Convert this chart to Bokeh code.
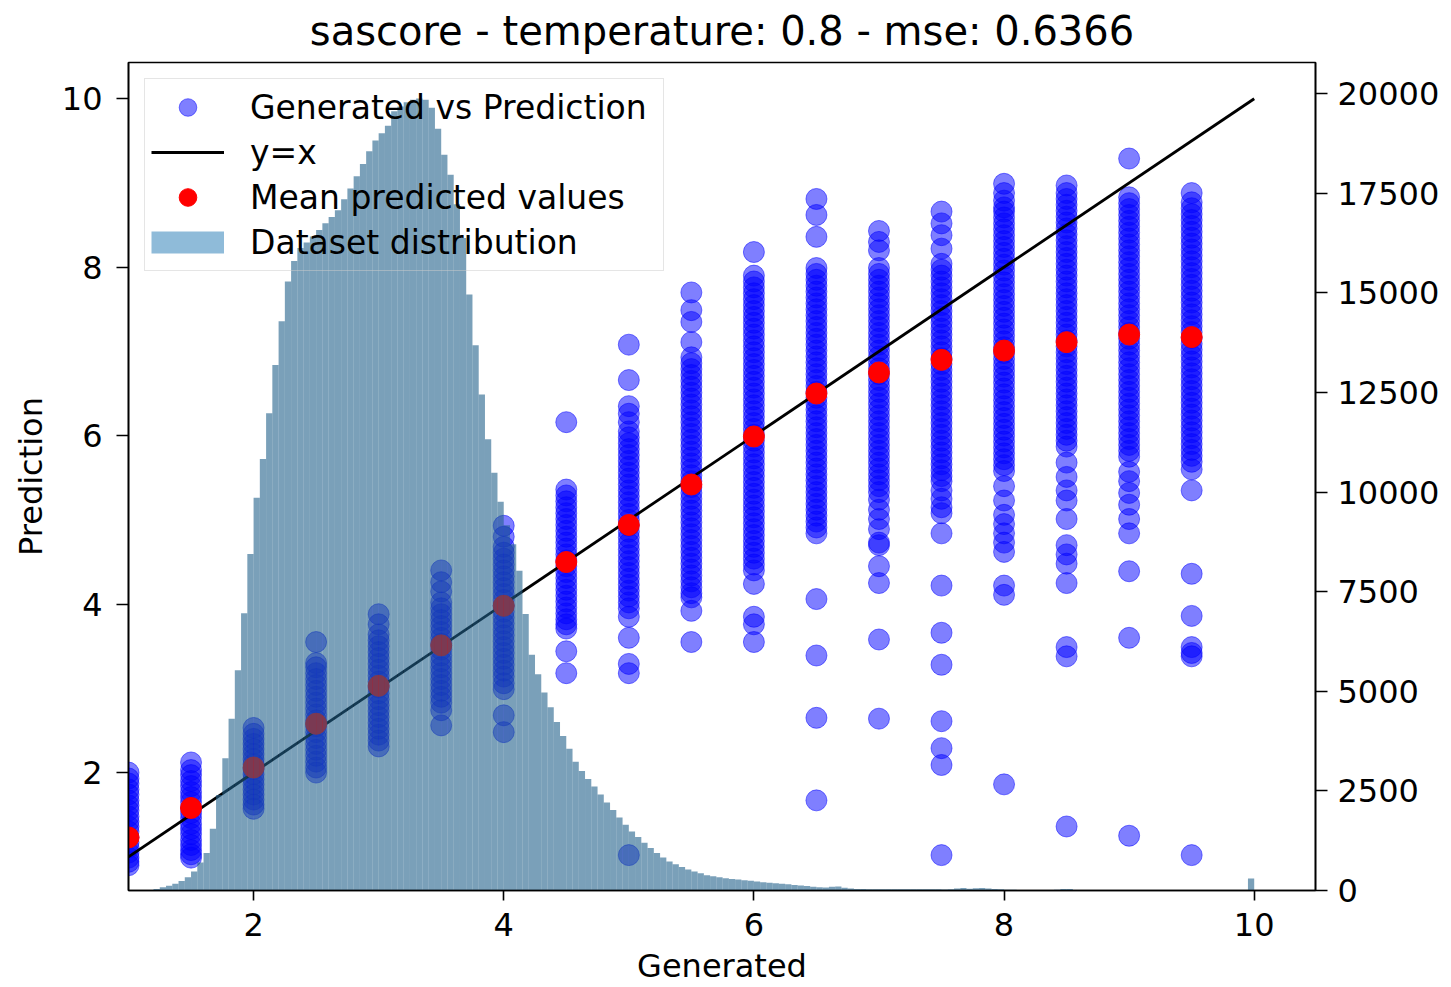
import numpy as np
from bokeh.plotting import figure
from bokeh.models import Range1d, LinearAxis, FixedTicker
from bokeh.embed import file_html
from bokeh.resources import INLINE

# ---------------- data ----------------
title_text = "sascore - temperature: 0.8 - mse: 0.6366"
x_label = "Generated"
y_label = "Prediction"

x_ticks = [2, 4, 6, 8, 10]
y_ticks = [2, 4, 6, 8, 10]
count_ticks = [0, 2500, 5000, 7500, 10000, 12500, 15000, 17500, 20000]

generated_levels = [1.0, 1.5, 2.0, 2.5, 3.0, 3.5, 4.0, 4.5, 5.0,
                    5.5, 6.0, 6.5, 7.0, 7.5, 8.0, 8.5, 9.0, 9.5]

pred_at_1_0 = [2.00, 1.93, 1.87, 1.80, 1.74, 1.67, 1.61, 1.55, 1.48, 1.42, 1.36, 1.30, 1.23,
               1.17, 1.11, 1.05, 0.99, 0.94, 0.90]
pred_at_1_5 = [2.12, 2.03, 1.97, 1.90, 1.84, 1.77, 1.71, 1.65, 1.58, 1.52, 1.46, 1.39, 1.33,
               1.27, 1.20, 1.14, 1.08, 1.03, 0.99]
pred_at_2_0 = [2.53, 2.46, 2.40, 2.34, 2.28, 2.22, 2.16, 2.10, 2.04, 1.98, 1.92, 1.86, 1.80,
               1.74, 1.68, 1.62, 1.57]
pred_at_2_5 = [3.55, 3.30, 3.25, 3.18, 3.11, 3.04, 2.97, 2.90, 2.83, 2.76, 2.69, 2.62, 2.55,
               2.48, 2.41, 2.34, 2.27, 2.20, 2.13, 2.06, 2.00]
pred_at_3_0 = [3.88, 3.76, 3.64, 3.57, 3.50, 3.43, 3.36, 3.29, 3.22, 3.15, 3.08, 3.01, 2.94,
               2.87, 2.80, 2.73, 2.66, 2.59, 2.52, 2.45, 2.38, 2.31]
pred_at_3_5 = [4.40, 4.26, 4.15, 4.02, 3.95, 3.88, 3.81, 3.74, 3.67, 3.60, 3.53, 3.46, 3.39,
               3.32, 3.25, 3.18, 3.11, 3.04, 2.97, 2.90, 2.83, 2.74, 2.56]
pred_at_4_0 = [4.93, 4.80, 4.68, 4.61, 4.54, 4.47, 4.40, 4.33, 4.26, 4.19, 4.12, 4.05, 3.98,
               3.91, 3.84, 3.77, 3.70, 3.63, 3.56, 3.49, 3.42, 3.35, 3.28, 3.21, 3.14, 3.06,
               2.99, 2.68, 2.48]
pred_at_4_5 = [6.16, 5.36, 5.29, 5.22, 5.15, 5.08, 5.01, 4.94, 4.87, 4.80, 4.73, 4.66, 4.59,
               4.52, 4.45, 4.38, 4.31, 4.24, 4.17, 4.10, 4.03, 3.96, 3.89, 3.82, 3.76, 3.71,
               3.44, 3.18]
pred_at_5_0 = [7.08, 6.66, 6.35, 6.26, 6.16, 6.05, 5.98, 5.91, 5.84, 5.77, 5.70, 5.63, 5.56,
               5.49, 5.42, 5.35, 5.28, 5.21, 5.14, 5.07, 5.00, 4.93, 4.86, 4.79, 4.72, 4.65,
               4.58, 4.51, 4.44, 4.37, 4.30, 4.23, 4.16, 4.09, 4.02, 3.95, 3.85, 3.60, 3.29,
               3.18, 1.02]
pred_at_5_5 = [7.70, 7.49, 7.35, 7.11, 6.93, 6.86, 6.79, 6.72, 6.65, 6.58, 6.51, 6.44, 6.37,
               6.30, 6.23, 6.16, 6.09, 6.02, 5.95, 5.88, 5.81, 5.74, 5.67, 5.60, 5.53, 5.46,
               5.39, 5.32, 5.25, 5.18, 5.11, 5.04, 4.97, 4.90, 4.83, 4.76, 4.69, 4.62, 4.55,
               4.48, 4.41, 4.34, 4.27, 4.20, 4.13, 4.08, 3.92, 3.55]
pred_at_6_0 = [8.18, 7.90, 7.83, 7.76, 7.69, 7.62, 7.55, 7.48, 7.41, 7.34, 7.27, 7.20, 7.13,
               7.06, 6.99, 6.92, 6.85, 6.78, 6.71, 6.64, 6.57, 6.50, 6.43, 6.36, 6.29, 6.22,
               6.15, 6.08, 6.01, 5.94, 5.87, 5.80, 5.73, 5.66, 5.59, 5.52, 5.45, 5.38, 5.31,
               5.24, 5.17, 5.10, 5.03, 4.96, 4.89, 4.82, 4.75, 4.68, 4.61, 4.54, 4.47, 4.40,
               4.24, 3.85, 3.76, 3.55]
pred_at_6_5 = [8.81, 8.62, 8.36, 7.99, 7.92, 7.85, 7.78, 7.71, 7.64, 7.57, 7.50, 7.43, 7.36,
               7.29, 7.22, 7.15, 7.08, 7.01, 6.94, 6.87, 6.80, 6.73, 6.66, 6.59, 6.52, 6.45,
               6.38, 6.31, 6.24, 6.17, 6.10, 6.03, 5.96, 5.89, 5.82, 5.75, 5.68, 5.61, 5.54,
               5.47, 5.40, 5.33, 5.26, 5.19, 5.12, 5.05, 4.98, 4.91, 4.84, 4.06, 3.39, 2.65,
               1.67]
pred_at_7_0 = [8.43, 8.30, 8.20, 7.99, 7.92, 7.85, 7.78, 7.71, 7.64, 7.57, 7.50, 7.43, 7.36,
               7.29, 7.22, 7.15, 7.08, 7.01, 6.94, 6.87, 6.80, 6.73, 6.66, 6.59, 6.52, 6.45,
               6.38, 6.31, 6.24, 6.17, 6.10, 6.03, 5.96, 5.89, 5.82, 5.75, 5.68, 5.61, 5.54,
               5.47, 5.40, 5.33, 5.24, 5.12, 5.01, 4.89, 4.73, 4.70, 4.45, 4.25, 3.58, 2.64]
pred_at_7_5 = [8.66, 8.52, 8.38, 8.22, 8.04, 7.97, 7.90, 7.83, 7.76, 7.69, 7.62, 7.55, 7.48,
               7.41, 7.34, 7.27, 7.20, 7.13, 7.06, 6.99, 6.92, 6.85, 6.78, 6.71, 6.64, 6.57,
               6.50, 6.43, 6.36, 6.29, 6.22, 6.15, 6.08, 6.01, 5.94, 5.87, 5.80, 5.73, 5.66,
               5.59, 5.52, 5.46, 5.35, 5.25, 5.15, 5.08, 4.84, 4.22, 3.66, 3.28, 2.61, 2.29,
               2.09, 1.02]
pred_at_8_0 = [8.99, 8.88, 8.79, 8.71, 8.66, 8.59, 8.52, 8.45, 8.38, 8.31, 8.24, 8.17, 8.10,
               8.03, 7.96, 7.89, 7.82, 7.75, 7.68, 7.61, 7.54, 7.47, 7.40, 7.33, 7.26, 7.19,
               7.12, 7.05, 6.98, 6.91, 6.84, 6.77, 6.70, 6.63, 6.56, 6.49, 6.42, 6.35, 6.28,
               6.21, 6.14, 6.07, 6.00, 5.93, 5.86, 5.79, 5.72, 5.65, 5.58, 5.40, 5.23, 5.06,
               4.95, 4.84, 4.73, 4.62, 4.22, 4.11, 1.86]
pred_at_8_5 = [8.97, 8.88, 8.81, 8.74, 8.67, 8.60, 8.53, 8.46, 8.39, 8.32, 8.25, 8.18, 8.11,
               8.04, 7.97, 7.90, 7.83, 7.76, 7.69, 7.62, 7.55, 7.48, 7.41, 7.34, 7.27, 7.20,
               7.13, 7.06, 6.99, 6.92, 6.85, 6.78, 6.71, 6.64, 6.57, 6.50, 6.43, 6.36, 6.29,
               6.22, 6.15, 6.08, 6.01, 5.94, 5.87, 5.68, 5.51, 5.35, 5.23, 5.01, 4.70, 4.59,
               4.48, 4.25, 3.49, 3.38, 1.36]
pred_at_9_0 = [9.29, 8.83, 8.76, 8.69, 8.62, 8.55, 8.48, 8.41, 8.34, 8.27, 8.20, 8.13, 8.06,
               7.99, 7.92, 7.85, 7.78, 7.71, 7.64, 7.57, 7.50, 7.43, 7.36, 7.29, 7.22, 7.15,
               7.08, 7.01, 6.94, 6.87, 6.80, 6.73, 6.66, 6.59, 6.52, 6.45, 6.38, 6.31, 6.24,
               6.17, 6.10, 6.03, 5.96, 5.89, 5.82, 5.75, 5.57, 5.46, 5.32, 5.18, 5.01, 4.84,
               4.39, 3.60, 1.25]
pred_at_9_5 = [8.88, 8.77, 8.70, 8.63, 8.56, 8.49, 8.42, 8.35, 8.28, 8.21, 8.14, 8.07, 8.00,
               7.93, 7.86, 7.79, 7.72, 7.65, 7.58, 7.51, 7.44, 7.37, 7.30, 7.23, 7.16, 7.09,
               7.02, 6.95, 6.88, 6.81, 6.74, 6.67, 6.60, 6.53, 6.46, 6.39, 6.32, 6.25, 6.18,
               6.11, 6.04, 5.97, 5.90, 5.83, 5.76, 5.69, 5.60, 5.35, 4.36, 3.86, 3.49, 3.42,
               3.38, 1.02]

mean_predicted = [1.23, 1.58, 2.06, 2.58, 3.03, 3.51, 3.98, 4.50, 4.94,
                  5.42, 5.99, 6.50, 6.75, 6.90, 7.01, 7.11, 7.20, 7.17]

identity_x = [1.0, 10.0]
identity_y = [1.0, 10.0]

# dataset distribution histogram (bins of width 0.05 starting at 1.20)
hist_start = 1.20
hist_bin_width = 0.05
hist_counts = [
    40, 80, 120, 170, 240, 330, 480, 700, 940, 1550,
    2400, 3320, 4310, 5530, 6960, 8450, 9860, 10830, 11980, 13190,
    14290, 15290, 15800, 16130, 16270, 16420, 16580, 16750, 16910, 17080,
    17350, 17620, 17930, 18240, 18560, 18830, 19010, 19200, 19560, 19680,
    19790, 19850, 19880, 19850, 19650, 19120, 18470, 17970, 17230, 16380,
    14960, 13690, 12450, 11330, 10490, 9760, 9170, 8690, 8030, 6940,
    5920, 5430, 4970, 4600, 4230, 3880, 3560, 3230, 3000, 2800,
    2610, 2410, 2210, 2020, 1830, 1650, 1480, 1340, 1200, 1070,
    940, 830, 730, 660, 590, 530, 480, 430, 380, 355,
    330, 305, 290, 275, 260, 245, 225, 210, 195, 180,
    170, 155, 140, 125, 110, 95, 80, 75, 95, 100,
    70, 50, 40, 35, 33, 32, 33, 30, 32, 31,
    30, 33, 30, 29, 31, 30, 28, 30, 50, 60,
    45, 55, 60, 48, 40, 30, 18, 16, 15, 14,
    15, 14, 13, 15, 20, 40, 35, 14, 13, 12,
    12, 11, 12, 10, 11, 10, 9, 10, 9, 8,
    9, 8, 8, 7, 8, 7, 6, 7, 6, 6,
    5, 6, 5, 5, 6, 300,
]

# ---------------- build ----------------
columns = [pred_at_1_0, pred_at_1_5, pred_at_2_0, pred_at_2_5, pred_at_3_0, pred_at_3_5,
           pred_at_4_0, pred_at_4_5, pred_at_5_0, pred_at_5_5, pred_at_6_0, pred_at_6_5,
           pred_at_7_0, pred_at_7_5, pred_at_8_0, pred_at_8_5, pred_at_9_0, pred_at_9_5]
sc_x, sc_y = [], []
for lvl, vals in zip(generated_levels, columns):
    sc_x.extend([lvl] * len(vals))
    sc_y.extend(vals)

n_bins = len(hist_counts)
left_edges = hist_start + hist_bin_width * np.arange(n_bins)
right_edges = left_edges + hist_bin_width

FONT = "DejaVu Sans"
TXT = "32px"

p = figure(frame_width=1187, frame_height=828,
           x_range=Range1d(1.0, 10.49), y_range=Range1d(0.6, 10.43),
           output_backend="svg", toolbar_location=None,
           min_border_left=128, min_border_right=118, min_border_top=62, min_border_bottom=90,
           title=title_text, x_axis_label=x_label, y_axis_label=y_label)
p.extra_y_ranges = {"count": Range1d(0, 20786)}

p.background_fill_color = "white"
p.border_fill_color = "white"
p.xgrid.visible = False
p.ygrid.visible = False
p.outline_line_color = "black"
p.outline_line_width = 1.6
p.outline_line_alpha = 1.0

# scatter of generated vs prediction
p.scatter(x=sc_x, y=sc_y, size=21, marker="circle",
          fill_color="blue", fill_alpha=0.5, line_color="blue", line_alpha=0.5, line_width=1,
          legend_label="Generated vs Prediction")
# y = x
p.line(identity_x, identity_y, line_color="black", line_width=2.8, legend_label="y=x")
# mean predictions
p.scatter(x=generated_levels, y=mean_predicted, size=21, marker="circle",
          fill_color="red", line_color="red", legend_label="Mean predicted values")
# legend swatch for the histogram (muted renderer: only its legend entry shows)
swatch = p.line(x=left_edges, y=hist_counts, y_range_name="count",
                line_color="#1f77b4", line_alpha=0.5, line_width=22, line_cap="butt",
                muted_line_alpha=0.0, legend_label="Dataset distribution")
swatch.muted = True
# histogram on the twin axis (drawn on top)
p.quad(left=left_edges, right=right_edges, bottom=0, top=hist_counts,
       fill_color="#21618A", fill_alpha=0.6, line_color=None, y_range_name="count")

right_axis = LinearAxis(y_range_name="count", ticker=FixedTicker(ticks=count_ticks))
p.add_layout(right_axis, "right")

p.xaxis.ticker = FixedTicker(ticks=x_ticks)
p.yaxis[0].ticker = FixedTicker(ticks=y_ticks)

for ax in [p.xaxis[0], p.yaxis[0], right_axis]:
    ax.axis_line_color = "black"
    ax.axis_line_width = 1.6
    ax.major_tick_line_color = "black"
    ax.major_tick_line_width = 1.6
    ax.major_tick_in = 0
    ax.minor_tick_line_color = None
    ax.major_label_text_font = FONT
    ax.major_label_text_font_size = TXT
    ax.major_label_text_color = "black"
    ax.axis_label_text_font = FONT
    ax.axis_label_text_font_size = TXT
    ax.axis_label_text_font_style = "normal"
    ax.axis_label_text_color = "black"

p.xaxis.major_tick_out = 10
p.xaxis.major_label_standoff = 12
p.xaxis.axis_label_standoff = 8
p.yaxis[0].major_tick_out = 12
p.yaxis[0].major_label_standoff = 14
p.yaxis[0].axis_label_standoff = 9
right_axis.major_tick_out = 12
right_axis.major_label_standoff = 10

p.title.text_font = FONT
p.title.text_font_size = "40px"
p.title.text_font_style = "normal"
p.title.text_color = "black"
p.title.align = "center"
p.title.vertical_align = "top"
p.title.standoff = 14

lg = p.legend[0]
lg.location = "top_left"
lg.margin = 16
lg.padding = 6
lg.spacing = 1
lg.glyph_width = 73
lg.glyph_height = 44
lg.label_height = 44
lg.label_width = 407
lg.label_standoff = 26
lg.label_text_font = FONT
lg.label_text_font_size = "33px"
lg.label_text_color = "black"
lg.border_line_color = "#cccccc"
lg.border_line_width = 1.5
lg.background_fill_alpha = 0.0

open("out.html", "w").write(file_html(p, INLINE))
